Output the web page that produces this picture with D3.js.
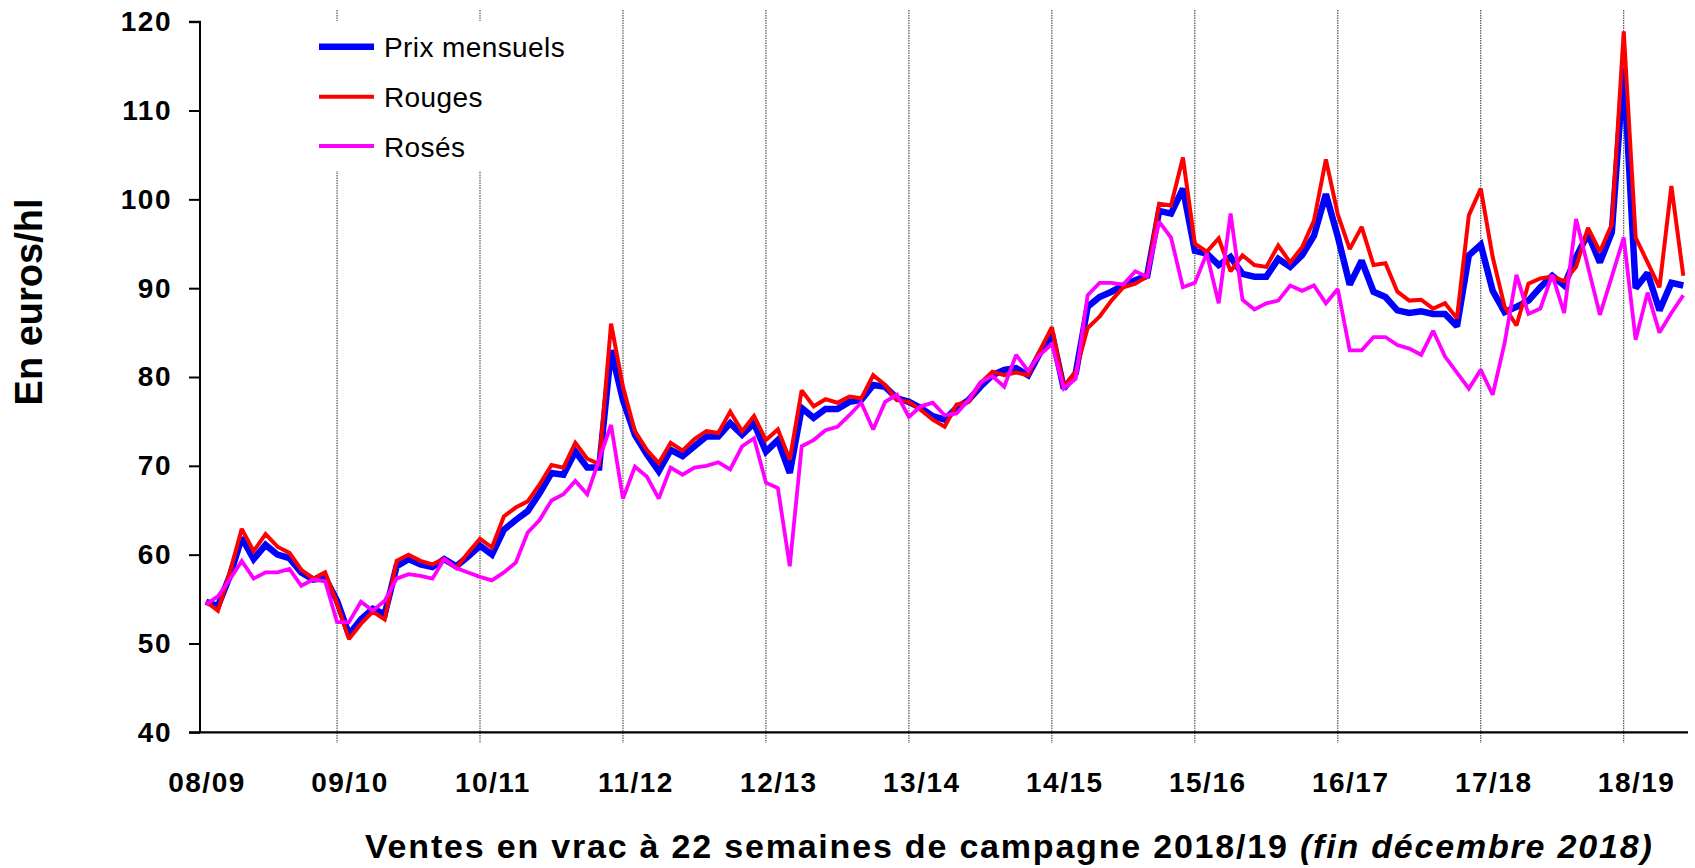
<!DOCTYPE html>
<html><head><meta charset="utf-8">
<script src="https://cdn.jsdelivr.net/npm/d3@7"></script>
<style>
html,body{margin:0;padding:0;background:#fff;}
svg{display:block;font-family:"Liberation Sans",Arial,sans-serif;}
</style></head>
<body>
<svg id="chart" width="1695" height="868"></svg>
<script>
// ---- DATA ----
const seasons = ["08/09","09/10","10/11","11/12","12/13","13/14","14/15","15/16","16/17","17/18","18/19"];
const yTicks = [40,50,60,70,80,90,100,110,120];
const seriesNames = ["Prix mensuels","Rouges","Rosés"];
// monthly values (index 0 = first month of 08/09), 125 months
const prixMensuels = [54.7,54.2,57.6,61.9,59.5,61.1,60.0,59.6,58.0,57.2,57.4,54.8,
  51.0,52.7,53.9,53.3,58.7,59.5,58.9,58.6,59.5,58.7,59.8,61.0,
  60.0,62.8,63.9,64.9,66.9,69.2,69.0,71.6,69.8,69.8,83.0,77.4,
  73.5,71.3,69.4,71.8,71.1,72.2,73.3,73.3,74.8,73.5,74.8,71.6,
  72.9,69.2,76.5,75.4,76.4,76.4,77.2,77.4,79.1,78.9,77.6,77.2,
  76.5,75.6,75.2,76.5,77.4,78.9,80.2,80.8,81.0,80.2,82.7,84.9,
  78.7,80.4,87.9,89.0,89.6,90.3,90.9,91.4,98.7,98.4,101.2,94.2,
  93.9,92.6,93.5,91.6,91.3,91.3,93.3,92.4,93.7,95.9,100.6,95.8,
  90.4,93.1,89.6,89.0,87.5,87.2,87.4,87.1,87.1,85.7,93.7,94.9,
  89.7,87.3,87.9,88.6,90.1,91.4,90.3,93.5,96.1,92.9,96.3,114.8,
  90.0,91.7,87.5,90.6,90.3];
const rouges = [54.7,53.7,58.0,62.9,60.4,62.3,60.9,60.2,58.3,57.3,58.0,54.5,
  50.5,52.2,53.6,52.7,59.3,60.0,59.3,58.9,59.5,58.5,60.2,61.8,
  60.8,64.3,65.3,66.0,67.9,70.1,69.8,72.6,70.8,70.2,86.0,78.9,
  73.9,71.8,70.3,72.6,71.7,73.0,73.9,73.7,76.1,73.9,75.6,72.9,
  74.1,70.7,78.5,76.7,77.5,77.1,77.8,77.6,80.2,79.1,77.4,77.2,
  76.3,75.2,74.4,76.9,77.2,79.3,80.6,80.2,80.5,80.2,83.0,85.6,
  78.9,80.6,85.5,86.8,88.6,90.1,90.5,91.3,99.5,99.3,104.7,95.0,
  94.1,95.6,91.9,93.7,92.6,92.4,94.8,92.9,94.6,97.6,104.5,98.3,
  94.4,96.9,92.6,92.8,89.6,88.6,88.7,87.7,88.3,86.6,98.2,101.2,
  93.5,87.9,85.8,90.5,91.1,91.3,90.8,92.4,96.8,94.1,97.2,118.9,
  95.7,92.9,90.1,101.5,91.4];
const roses = [54.4,55.3,57.2,59.3,57.3,58.0,58.0,58.4,56.5,57.2,57.0,52.4,
  52.4,54.7,53.7,54.8,57.3,57.8,57.6,57.3,59.5,58.5,58.0,57.5,
  57.1,58.0,59.1,62.5,63.9,66.1,66.8,68.3,66.8,70.7,74.6,66.3,
  69.9,68.8,66.3,69.8,69.0,69.8,70.0,70.4,69.6,72.2,73.1,68.1,
  67.5,58.7,72.2,72.9,74.0,74.4,75.7,77.1,74.1,77.2,78.0,75.5,
  76.7,77.1,75.7,75.9,77.4,79.4,80.1,78.9,82.5,80.7,82.5,83.7,
  78.7,79.8,89.2,90.6,90.6,90.4,91.9,91.3,97.5,95.7,90.1,90.6,
  93.9,88.3,98.4,88.7,87.6,88.3,88.6,90.3,89.7,90.3,88.3,89.9,
  83.0,83.0,84.5,84.5,83.6,83.2,82.5,85.2,82.3,80.5,78.7,80.8,
  78.0,83.8,91.5,87.1,87.7,91.5,87.2,97.8,92.4,87.0,91.3,95.7,
  84.2,89.5,85.0,87.2,89.2];
const seriesColors = ["#0000ff","#ff0000","#ff00ff"];
const seriesWidths = [6.5,4,3.8];
const yTitle = "En euros/hl";
const xTitleMain = "Ventes en vrac à 22 semaines de campagne 2018/19 ";
const xTitleItalic = "(fin décembre 2018)";

// ---- LAYOUT ----
const svg = d3.select("#chart");
const nMonths = prixMensuels.length;
const x = d3.scaleLinear().domain([0, nMonths - 1]).range([206, 1683.3]);
const y = d3.scaleLinear().domain([40, 120]).range([732.3, 21.7]);
const axisX0 = 200;

// vertical season separators (between seasons)
const sepIdx = seasons.slice(1).map((s, k) => 11 + 12 * k);
svg.append("g").selectAll("line").data(sepIdx).join("line")
  .attr("x1", d => x(d)).attr("x2", d => x(d))
  .attr("y1", 10).attr("y2", 743)
  .attr("stroke", "#333").attr("stroke-width", 1)
  .attr("stroke-dasharray", "1.5,1");

// legend background
svg.append("rect").attr("x", 300).attr("y", 21).attr("width", 285).attr("height", 150).attr("fill", "#fff");

// y axis
const yAxis = d3.axisLeft(y).tickValues(yTicks).tickSize(11).tickPadding(17).tickFormat(d3.format("d"));
const gy = svg.append("g").attr("transform", `translate(${axisX0},0)`).call(yAxis);
gy.select(".domain").attr("stroke", "#000").attr("stroke-width", 2).attr("d", `M-11,${y(120)}H0V${y(40)}`);
gy.selectAll(".tick line").attr("stroke", "#000").attr("stroke-width", 2);
gy.selectAll(".tick text").attr("font-size", 28).attr("font-weight", "bold")
  .attr("letter-spacing", "1.5px").attr("fill", "#000").attr("font-family", "Liberation Sans, Arial, sans-serif");

// x axis baseline
svg.append("line").attr("x1", 189).attr("x2", 1688).attr("y1", y(40)).attr("y2", y(40))
  .attr("stroke", "#000").attr("stroke-width", 2.2);

// x tick labels (season starts)
svg.append("g").selectAll("text").data(seasons).join("text")
  .attr("x", (d, k) => x(12 * k) + 1).attr("y", 792)
  .attr("text-anchor", "middle").attr("font-size", 28).attr("font-weight", "bold")
  .attr("letter-spacing", "1.5px").text(d => d);

// lines
const allSeries = [prixMensuels, rouges, roses];
const line = d3.line().x((d, i) => x(i)).y(d => y(d)).curve(d3.curveLinear);
svg.append("g").selectAll("path").data(allSeries).join("path")
  .attr("d", d => line(d)).attr("fill", "none")
  .attr("stroke", (d, k) => seriesColors[k]).attr("stroke-width", (d, k) => seriesWidths[k])
  .attr("stroke-linejoin", "miter").attr("stroke-miterlimit", 2);

// legend
const lg = svg.append("g");
const legY = [46.7, 96.7, 146];
seriesNames.forEach((nm, k) => {
  lg.append("line").attr("x1", 319).attr("x2", 374).attr("y1", legY[k]).attr("y2", legY[k])
    .attr("stroke", seriesColors[k]).attr("stroke-width", k === 0 ? 6.5 : 4);
  lg.append("text").attr("x", 384).attr("y", legY[k] + 10.5).attr("font-size", 28)
    .attr("letter-spacing", "0.4px").attr("fill", "#000").text(nm);
});

// y title
svg.append("text").attr("transform", "translate(42,302) rotate(-90)")
  .attr("text-anchor", "middle").attr("font-size", 38).attr("font-weight", "bold").text(yTitle);

// x title
const xt = svg.append("text").attr("x", 365).attr("y", 858).attr("font-size", 34)
  .attr("font-weight", "bold").attr("letter-spacing", "1.8px");
xt.append("tspan").text(xTitleMain);
xt.append("tspan").attr("font-style", "italic").text(xTitleItalic);
</script>
</body></html>
